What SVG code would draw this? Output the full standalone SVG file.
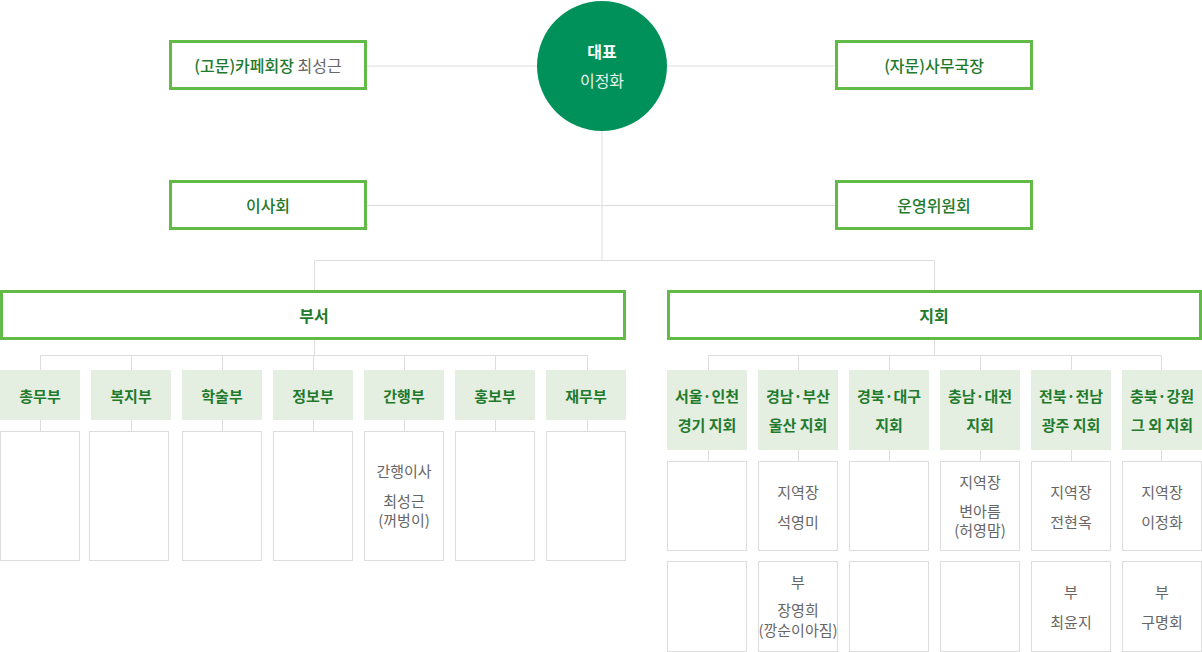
<svg xmlns="http://www.w3.org/2000/svg" width="1202" height="652" viewBox="0 0 1202 652">
<style>
text{font-family:"Noto Sans CJK KR","Noto Sans",sans-serif;font-size:15px;text-anchor:middle;dominant-baseline:central}
.main{fill:#fff;stroke:#62bb46;stroke-width:3}
.g{fill:#1f7a2d;font-weight:500}
.big{font-size:16px}
.gb{fill:#1f7a2d;font-weight:bold}
.gray{fill:#666}
.sub{fill:#e5efe1}
.cell{fill:#fff;stroke:#dddddd;stroke-width:1}
.ln{stroke:#dddddd;stroke-width:1;fill:none}
</style>
<rect width="1202" height="652" fill="#fff"/>
<g id="connectors" class="ln">
<path d="M367 66H537M667 66H835"/>
<path d="M602 131V260M367 205.5H835"/>
<path d="M314.5 290V260.5H934.5V290"/>
<path d="M314.5 340V355.5M40.5 370V355.5H587.5V370"/>
<path d="M131.5 355.5V370M222.5 355.5V370M313.5 355.5V370M404.5 355.5V370M495.5 355.5V370"/>
<path d="M40.5 420V431M131.5 420V431M222.5 420V431M313.5 420V431M404.5 420V431M495.5 420V431M587.5 420V431"/>
<path d="M934.5 340V355.5M708.5 370V355.5H1161.5V370"/>
<path d="M798.5 355.5V370M889.5 355.5V370M980.5 355.5V370M1071.5 355.5V370"/>
<path d="M708.5 450V461M798.5 450V461M889.5 450V461M980.5 450V461M1071.5 450V461M1161.5 450V461"/>
</g>
<g id="ceo">
<circle cx="602" cy="66" r="65" fill="#00915a"/>
<text class="big" x="602" y="51" fill="#fff" font-weight="bold">대표</text>
<text class="big" x="602" y="80" fill="#e8f2ec">이정화</text>
</g>
<g id="advisor">
<rect class="main" x="170.5" y="41.5" width="195" height="47"/>
<text class="big" x="268" y="65"><tspan class="g">(고문)카페회장 </tspan><tspan class="gray">최성근</tspan></text>
</g>
<g id="secretary">
<rect class="main" x="836.5" y="41.5" width="195" height="47"/>
<text class="g big" x="934" y="65">(자문)사무국장</text>
</g>
<g id="board">
<rect class="main" x="170.5" y="181.5" width="195" height="47"/>
<text class="g big" x="268" y="205">이사회</text>
</g>
<g id="committee">
<rect class="main" x="836.5" y="181.5" width="195" height="47"/>
<text class="g big" x="934" y="205">운영위원회</text>
</g>
<g id="dept">
<rect class="main" x="1.5" y="291.5" width="623" height="47"/>
<text class="gb big" x="314" y="315">부서</text>
</g>
<g id="branch">
<rect class="main" x="668.5" y="291.5" width="532" height="47"/>
<text class="gb big" x="934" y="315">지회</text>
</g>
<g id="d1"><rect class="sub" x="0" y="370" width="80" height="50"/><text class="gb" x="40" y="395">총무부</text><rect class="cell" x="0.5" y="431.5" width="79" height="129"/></g>
<g id="d2"><rect class="sub" x="91" y="370" width="80" height="50"/><text class="gb" x="131" y="395">복지부</text><rect class="cell" x="89.5" y="431.5" width="79" height="129"/></g>
<g id="d3"><rect class="sub" x="182" y="370" width="80" height="50"/><text class="gb" x="222" y="395">학술부</text><rect class="cell" x="182.5" y="431.5" width="79" height="129"/></g>
<g id="d4"><rect class="sub" x="273" y="370" width="80" height="50"/><text class="gb" x="313" y="395">정보부</text><rect class="cell" x="273.5" y="431.5" width="79" height="129"/></g>
<g id="d5"><rect class="sub" x="364" y="370" width="80" height="50"/><text class="gb" x="404" y="395">간행부</text><rect class="cell" x="364.5" y="431.5" width="79" height="129"/>
<text class="gray" x="404" y="470">간행이사</text><text class="gray" x="404" y="500">최성근</text><text class="gray" x="404" y="519">(꺼벙이)</text></g>
<g id="d6"><rect class="sub" x="455" y="370" width="80" height="50"/><text class="gb" x="495" y="395">홍보부</text><rect class="cell" x="455.5" y="431.5" width="79" height="129"/></g>
<g id="d7"><rect class="sub" x="546" y="370" width="80" height="50"/><text class="gb" x="586" y="395">재무부</text><rect class="cell" x="546.5" y="431.5" width="79" height="129"/></g>
<g id="b1"><rect class="sub" x="667" y="370" width="80" height="80"/><text class="gb" x="707" y="395">서울·인천</text><text class="gb" x="707" y="424">경기 지회</text>
<rect class="cell" x="667.5" y="461.5" width="79" height="89"/><rect class="cell" x="667.5" y="561.5" width="79" height="90"/></g>
<g id="b2"><rect class="sub" x="758" y="370" width="80" height="80"/><text class="gb" x="798" y="395">경남·부산</text><text class="gb" x="798" y="424">울산 지회</text>
<rect class="cell" x="758.5" y="461.5" width="79" height="89"/><rect class="cell" x="758.5" y="561.5" width="79" height="90"/>
<text class="gray" x="798" y="491">지역장</text><text class="gray" x="798" y="521">석영미</text>
<text class="gray" x="798" y="581">부</text><text class="gray" x="798" y="609">장영희</text><text class="gray" x="798" y="629">(깡순이아짐)</text></g>
<g id="b3"><rect class="sub" x="849" y="370" width="80" height="80"/><text class="gb" x="889" y="395">경북·대구</text><text class="gb" x="889" y="424">지회</text>
<rect class="cell" x="849.5" y="461.5" width="79" height="89"/><rect class="cell" x="849.5" y="561.5" width="79" height="90"/></g>
<g id="b4"><rect class="sub" x="940" y="370" width="80" height="80"/><text class="gb" x="980" y="395">충남·대전</text><text class="gb" x="980" y="424">지회</text>
<rect class="cell" x="940.5" y="461.5" width="79" height="89"/><rect class="cell" x="940.5" y="561.5" width="79" height="90"/>
<text class="gray" x="980" y="481">지역장</text><text class="gray" x="980" y="510">변아름</text><text class="gray" x="980" y="529">(허영맘)</text></g>
<g id="b5"><rect class="sub" x="1031" y="370" width="80" height="80"/><text class="gb" x="1071" y="395">전북·전남</text><text class="gb" x="1071" y="424">광주 지회</text>
<rect class="cell" x="1031.5" y="461.5" width="79" height="89"/><rect class="cell" x="1031.5" y="561.5" width="79" height="90"/>
<text class="gray" x="1071" y="491">지역장</text><text class="gray" x="1071" y="521">전현옥</text>
<text class="gray" x="1071" y="591">부</text><text class="gray" x="1071" y="621">최윤지</text></g>
<g id="b6"><rect class="sub" x="1122" y="370" width="80" height="80"/><text class="gb" x="1162" y="395">충북·강원</text><text class="gb" x="1162" y="424">그 외 지회</text>
<rect class="cell" x="1122.5" y="461.5" width="79" height="89"/><rect class="cell" x="1122.5" y="561.5" width="79" height="90"/>
<text class="gray" x="1162" y="491">지역장</text><text class="gray" x="1162" y="521">이정화</text>
<text class="gray" x="1162" y="591">부</text><text class="gray" x="1162" y="621">구명회</text></g>
</svg>
